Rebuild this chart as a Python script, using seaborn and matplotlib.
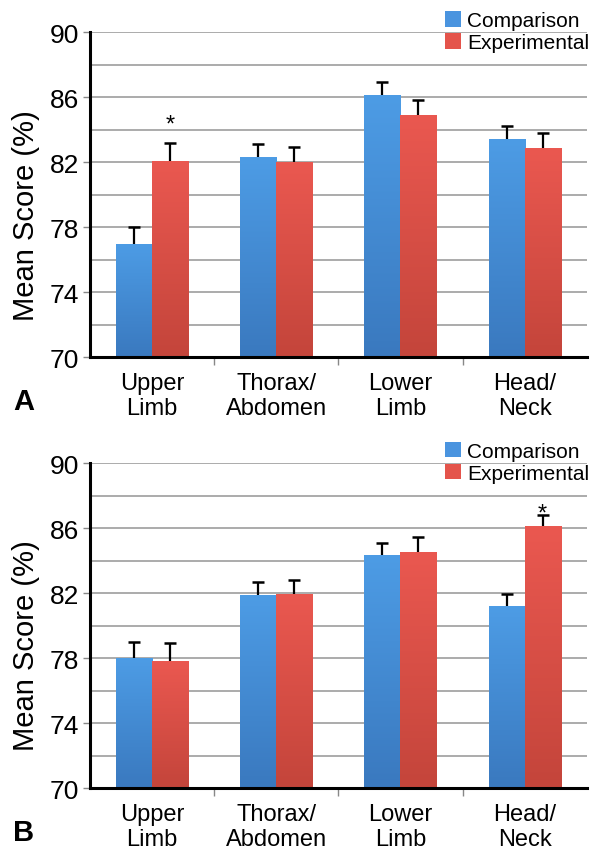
import numpy as np
import pandas as pd
import matplotlib
matplotlib.use("Agg")
import matplotlib.pyplot as plt
import seaborn as sns
from matplotlib.colors import LinearSegmentedColormap

categories = ["Upper\nLimb", "Thorax/\nAbdomen", "Lower\nLimb", "Head/\nNeck"]
groups = ["Comparison", "Experimental"]

# panel A
a_comparison = [77.0, 82.3, 86.15, 83.45]
a_comparison_err = [1.0, 0.85, 0.8, 0.8]
a_experimental = [82.1, 82.0, 84.9, 82.85]
a_experimental_err = [1.1, 0.95, 0.95, 0.95]
a_star_cat, a_star_y = 0, 84.8
# panel B
b_comparison = [78.0, 81.9, 84.35, 81.2]
b_comparison_err = [1.0, 0.75, 0.7, 0.75]
b_experimental = [77.8, 81.95, 84.55, 86.1]
b_experimental_err = [1.1, 0.85, 0.9, 0.7]
b_star_cat, b_star_y = 3, 87.4

yticks = [70, 74, 78, 82, 86, 90]

BLUE = "#4a94df"
RED = "#e4544b"
grad = {
    BLUE: LinearSegmentedColormap.from_list("b", ["#3a79bf", "#4d9ce5"]),
    RED: LinearSegmentedColormap.from_list("r", ["#c4453b", "#ea5850"]),
}

sns.set_style("white")
plt.rcParams["font.family"] = ["Liberation Sans", "DejaVu Sans"]
plt.rcParams["text.color"] = "black"
plt.rcParams["axes.labelcolor"] = "black"
plt.rcParams["xtick.labelcolor"] = "black"
plt.rcParams["ytick.labelcolor"] = "black"


def draw_panel(ax, comp, comp_err, exp, exp_err, star_cat, star_y, letter):
    df = pd.DataFrame({
        "category": categories * 2,
        "group": [groups[0]] * 4 + [groups[1]] * 4,
        "score": comp + exp,
    })
    sns.barplot(data=df, x="category", y="score", hue="group",
                palette=[BLUE, RED], width=0.58, errorbar=None,
                saturation=1, ax=ax, zorder=3, linewidth=0)

    errs = [comp_err, exp_err]
    for cont, err, col in zip(ax.containers, errs, [BLUE, RED]):
        xs, tops = [], []
        for p in cont.patches:
            x0, w, h = p.get_x(), p.get_width(), p.get_height()
            im = ax.imshow(np.linspace(0, 1, 100).reshape(-1, 1),
                           cmap=grad[col], origin="lower", aspect="auto",
                           extent=[x0, x0 + w, 70, h], zorder=3.5)
            im.set_clip_path(p)
            xs.append(x0 + w / 2)
            tops.append(h)
        eb = ax.errorbar(xs, tops, yerr=[np.zeros(len(err)), err], fmt="none",
                         ecolor="black", elinewidth=1.6, capsize=4,
                         capthick=1.8, zorder=5)
        # only the upper cap, like the original chart
        eb[1][0].set_visible(False)

    # significance marker over the experimental bar
    p = ax.containers[1].patches[star_cat]
    ax.annotate("*", (p.get_x() + p.get_width() / 2, star_y),
                xytext=(0, -10), textcoords="offset points",
                ha="center", va="baseline", fontsize=17, zorder=6)

    ax.set_xlim(-0.5, 3.5)
    ax.set_ylim(70, 90)
    ax.set_yticks(yticks)
    ax.set_yticks(np.arange(72, 90, 4), minor=True)
    ax.yaxis.grid(True, which="both", color="#a5a5a5", linewidth=1.3, zorder=0)
    ax.xaxis.grid(False)
    ax.set_axisbelow(True)
    ax.tick_params(axis="y", which="major", left=True, length=5, width=1,
                   color="#888888", labelsize=19, pad=3)
    ax.tick_params(axis="y", which="minor", left=False)
    ax.set_xticks(range(4))
    ax.set_xticklabels(categories, linespacing=1.2)
    ax.set_xticks([0.5, 1.5, 2.5], minor=True)
    ax.tick_params(axis="x", which="major", bottom=False, labelsize=17, pad=7)
    ax.tick_params(axis="x", which="minor", bottom=True, length=6, width=1,
                   color="#888888")
    ax.set_xlabel("")
    ax.set_ylabel("Mean Score (%)", fontsize=21)
    ax.yaxis.set_label_coords(-0.1, 0.44)
    for side in ["top", "right"]:
        ax.spines[side].set_visible(False)
    for side in ["left", "bottom"]:
        ax.spines[side].set_color("black")
        ax.spines[side].set_linewidth(2.2)
        ax.spines[side].set_zorder(6)

    handles, labels = ax.get_legend_handles_labels()
    ax.legend(handles, labels, loc="upper right", bbox_to_anchor=(1.005, 1.065),
              frameon=False, fontsize=15, handlelength=0.75, handleheight=0.75,
              handletextpad=0.3, labelspacing=0.15, borderpad=0, borderaxespad=0)
    ax.text(-0.155, -0.135, letter, transform=ax.transAxes, fontsize=21,
            fontweight="bold", ha="left", va="center")


fig = plt.figure(figsize=(5.9, 8.53), dpi=100)
ax_a = fig.add_axes([0.1525, 0.580, 0.842, 0.381])
ax_b = fig.add_axes([0.1525, 0.075, 0.842, 0.381])

draw_panel(ax_a, a_comparison, a_comparison_err, a_experimental,
           a_experimental_err, a_star_cat, a_star_y, "A")
draw_panel(ax_b, b_comparison, b_comparison_err, b_experimental,
           b_experimental_err, b_star_cat, b_star_y, "B")

fig.savefig("out.png", dpi=100)
